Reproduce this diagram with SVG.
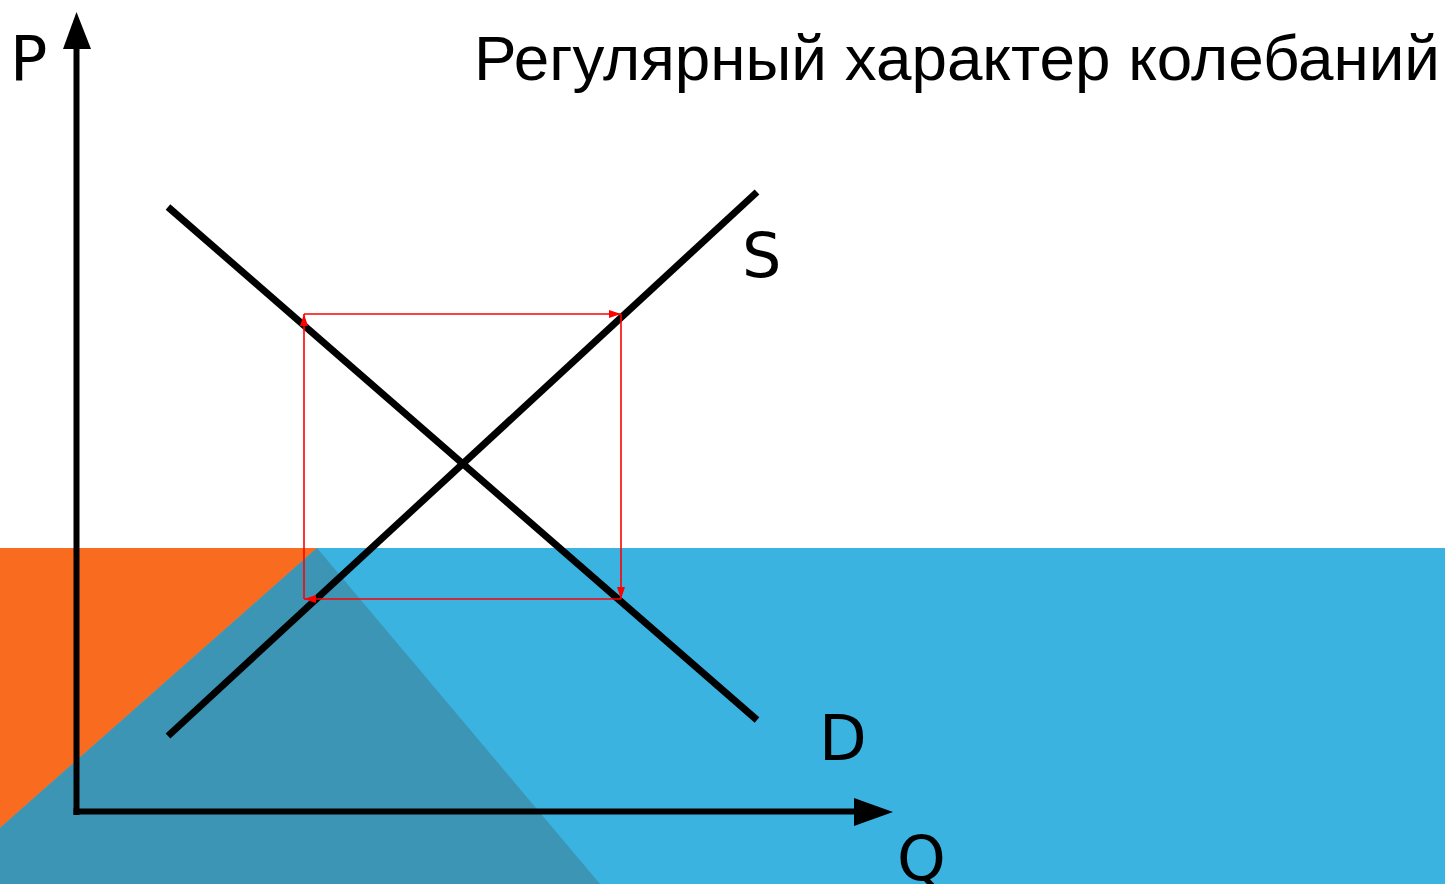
<svg xmlns="http://www.w3.org/2000/svg" width="1445" height="884" viewBox="0 0 1445 884">
<style>
.lbl{font-family:"DejaVu Sans",sans-serif;font-size:62px;fill:#000}
.title{font-family:"Liberation Sans",Arial,sans-serif;font-size:63px;fill:#000}
.curve{stroke:#000;stroke-width:7;fill:none}
.axis{stroke:#000;stroke-width:6;fill:none}
.cyc{stroke:#ff0000;stroke-width:1.6;fill:none}
</style>
<defs>
<marker id="ra" viewBox="0 0 12 8" refX="12" refY="4" markerWidth="12" markerHeight="8" markerUnits="userSpaceOnUse" orient="auto">
<path d="M0,0 L12,4 L0,8 Z" fill="#ff0000"/>
</marker>
</defs>
<g id="background">
<rect x="0" y="548" width="1445" height="336" fill="#3bb3e0"/>
<polygon points="0,548 317,548 0,828" fill="#f96b1e"/>
<polygon points="317,548 600,884 0,884 0,828" fill="#3c95b4"/>
</g>
<g id="axes">
<line class="axis" x1="76.5" y1="815" x2="76.5" y2="45"/>
<polygon points="76.5,12 63,49 91,49" fill="#000"/>
<line class="axis" x1="73.5" y1="811.5" x2="858" y2="811.5"/>
<polygon points="893,812 854,798 854,826" fill="#000"/>
</g>
<g id="demand">
<line class="curve" x1="168" y1="207" x2="757" y2="720"/>
</g>
<g id="supply">
<line class="curve" x1="168" y1="736" x2="757" y2="192"/>
</g>
<g id="connectors">
<line class="cyc" x1="304" y1="314" x2="621" y2="314" marker-end="url(#ra)"/>
<line class="cyc" x1="621" y1="314" x2="621" y2="599" marker-end="url(#ra)"/>
<line class="cyc" x1="621" y1="599" x2="304" y2="599" marker-end="url(#ra)"/>
<line class="cyc" x1="304" y1="599" x2="304" y2="314" marker-end="url(#ra)"/>
</g>
<g id="labels">
<text class="lbl" x="10" y="80">P</text>
<text class="lbl" x="742" y="277">S</text>
<text class="lbl" x="819" y="760">D</text>
<text class="lbl" x="897" y="880">Q</text>
<text class="title" x="474" y="80" textLength="966" lengthAdjust="spacingAndGlyphs">Регулярный характер колебаний</text>
</g>
</svg>
